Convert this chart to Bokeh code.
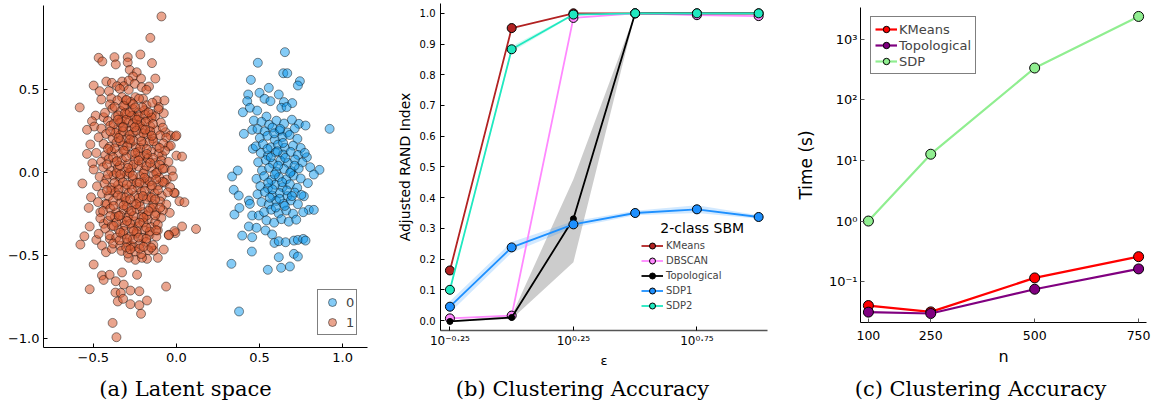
from bokeh.plotting import figure
from bokeh.models import FixedTicker, Legend, LegendItem, Label, Range1d
from bokeh.embed import file_html
from bokeh.resources import INLINE

# ---------------- Panel (a): latent space (hand-read positions) ----------------
class1_points = [
    # outer / sparse
    (-0.09, 0.94), (-0.157, 0.811), (-0.468, 0.691), (-0.446, 0.669), (-0.373, 0.695), (-0.293, 0.695),
    (-0.217, 0.711), (-0.365, 0.651), (-0.293, 0.663), (-0.147, 0.659), (-0.281, 0.618), (-0.239, 0.604),
    (-0.261, 0.578), (-0.213, 0.566), (-0.127, 0.566), (-0.422, 0.548), (-0.388, 0.540), (-0.327, 0.548),
    (-0.287, 0.554), (-0.498, 0.524), (-0.357, 0.520), (-0.317, 0.520), (-0.251, 0.534), (-0.209, 0.514),
    (-0.165, 0.518), (-0.462, 0.490), (-0.406, 0.490), (-0.341, 0.504), (-0.287, 0.498), (-0.181, 0.498),
    (-0.452, 0.440), (-0.392, 0.448), (-0.327, 0.454), (-0.301, 0.434), (-0.247, 0.454), (-0.201, 0.444),
    (-0.117, 0.434), (-0.072, 0.434), (-0.582, 0.392), (-0.486, 0.343), (-0.438, 0.333), (-0.106, 0.394),
    (-0.076, 0.357), (-0.508, 0.309), (-0.494, 0.277), (-0.538, 0.257), (-0.066, 0.243), (-0.036, 0.223),
    (-0.006, 0.217), (-0.518, 0.169), (-0.538, 0.112), (-0.506, 0.056), (0.0, 0.102), (0.034, 0.096),
    (-0.046, 0.157), (-0.086, 0.102), (-0.566, -0.066), (-0.514, -0.149), (-0.528, -0.213), (-0.522, -0.325),
    (-0.554, -0.384), (-0.578, -0.434), (-0.482, -0.406), (-0.448, -0.440), (-0.424, -0.480), (-0.388, -0.460),
    (-0.498, -0.554), (-0.448, -0.620), (-0.438, -0.647), (-0.402, -0.616), (-0.365, -0.655), (-0.327, -0.602),
    (-0.317, -0.675), (-0.237, -0.616), (-0.522, -0.703), (-0.367, -0.723), (-0.335, -0.725), (-0.277, -0.711),
    (-0.223, -0.715), (-0.353, -0.777), (-0.321, -0.761), (-0.277, -0.793), (-0.223, -0.799), (-0.177, -0.771),
    (-0.213, -0.851), (-0.062, -0.687), (-0.384, -0.906), (-0.361, -0.992), (-0.010, -0.124), (0.018, -0.173),
    (0.048, -0.179), (-0.040, -0.243), (-0.006, -0.365), (-0.046, -0.375), (0.034, -0.325), (-0.112, -0.349),
    (-0.076, -0.464), (-0.112, -0.514), (-0.177, -0.520), (-0.247, -0.526), (-0.287, -0.514), (-0.207, -0.514),
    (-0.136, -0.470), (-0.277, -0.440), (-0.468, -0.369), (-0.400, -0.400), (-0.438, -0.309), (-0.458, -0.239),
    (-0.428, -0.189), (0.118, -0.340), (-0.012, -0.353), (-0.046, -0.378), (-0.014, -0.122), (0.0, 0.223),
    # core
    (-0.40, 0.41), (-0.355, 0.435), (-0.31, 0.40), (-0.275, 0.425), (-0.225, 0.445), (-0.18, 0.405), (-0.145, 0.42),
    (-0.43, 0.36), (-0.385, 0.385), (-0.335, 0.37), (-0.30, 0.35), (-0.262, 0.383), (-0.228, 0.362), (-0.192, 0.375),
    (-0.148, 0.352), (-0.108, 0.381),
    (-0.412, 0.31), (-0.366, 0.334), (-0.328, 0.318), (-0.292, 0.298), (-0.247, 0.332), (-0.213, 0.306),
    (-0.171, 0.322), (-0.128, 0.339), (-0.094, 0.301),
    (-0.452, 0.265), (-0.398, 0.282), (-0.357, 0.259), (-0.318, 0.276), (-0.284, 0.251), (-0.238, 0.288),
    (-0.203, 0.262), (-0.158, 0.279), (-0.121, 0.254), (-0.082, 0.27),
    (-0.468, 0.212), (-0.423, 0.232), (-0.384, 0.208), (-0.338, 0.226), (-0.302, 0.201), (-0.261, 0.238),
    (-0.219, 0.214), (-0.177, 0.229), (-0.142, 0.205), (-0.098, 0.224), (-0.061, 0.211),
    (-0.438, 0.172), (-0.402, 0.155), (-0.361, 0.181), (-0.322, 0.163), (-0.277, 0.178), (-0.243, 0.152),
    (-0.199, 0.171), (-0.163, 0.186), (-0.118, 0.158), (-0.079, 0.175), (-0.034, 0.162),
    (-0.482, 0.118), (-0.428, 0.104), (-0.391, 0.128), (-0.348, 0.111), (-0.309, 0.132), (-0.268, 0.108),
    (-0.232, 0.124), (-0.188, 0.102), (-0.151, 0.127), (-0.107, 0.113), (-0.068, 0.131),
    (-0.452, 0.066), (-0.408, 0.081), (-0.372, 0.058), (-0.327, 0.074), (-0.291, 0.052), (-0.248, 0.079),
    (-0.208, 0.061), (-0.172, 0.083), (-0.128, 0.057), (-0.091, 0.072), (-0.048, 0.064),
    (-0.498, 0.018), (-0.441, 0.031), (-0.393, 0.009), (-0.352, 0.027), (-0.313, 0.004), (-0.271, 0.022),
    (-0.228, 0.036), (-0.192, 0.011), (-0.149, 0.028), (-0.113, 0.003), (-0.071, 0.024), (-0.028, 0.012),
    (-0.462, -0.026), (-0.421, -0.041), (-0.378, -0.018), (-0.338, -0.034), (-0.297, -0.011), (-0.262, -0.038),
    (-0.218, -0.022), (-0.181, -0.044), (-0.138, -0.015), (-0.102, -0.031), (-0.058, -0.042), (-0.021, -0.024),
    (-0.478, -0.083), (-0.432, -0.068), (-0.392, -0.091), (-0.351, -0.074), (-0.309, -0.097), (-0.271, -0.072),
    (-0.232, -0.088), (-0.188, -0.066), (-0.152, -0.093), (-0.108, -0.077), (-0.072, -0.061), (-0.038, -0.089),
    (-0.448, -0.128), (-0.408, -0.142), (-0.368, -0.121), (-0.331, -0.146), (-0.288, -0.124), (-0.249, -0.139),
    (-0.211, -0.117), (-0.168, -0.148), (-0.131, -0.126), (-0.088, -0.141), (-0.052, -0.119),
    (-0.472, -0.178), (-0.418, -0.191), (-0.381, -0.169), (-0.339, -0.186), (-0.302, -0.172), (-0.258, -0.194),
    (-0.221, -0.176), (-0.178, -0.163), (-0.139, -0.189), (-0.098, -0.174), (-0.061, -0.192),
    (-0.441, -0.232), (-0.398, -0.218), (-0.362, -0.241), (-0.318, -0.224), (-0.281, -0.246), (-0.238, -0.221),
    (-0.202, -0.238), (-0.158, -0.216), (-0.121, -0.243), (-0.082, -0.228),
    (-0.458, -0.276), (-0.412, -0.291), (-0.371, -0.268), (-0.329, -0.287), (-0.292, -0.271), (-0.251, -0.294),
    (-0.209, -0.266), (-0.172, -0.284), (-0.128, -0.297), (-0.091, -0.273),
    (-0.428, -0.338), (-0.388, -0.321), (-0.348, -0.342), (-0.309, -0.318), (-0.268, -0.336), (-0.231, -0.324),
    (-0.191, -0.347), (-0.152, -0.329), (-0.112, -0.314),
    (-0.402, -0.378), (-0.362, -0.392), (-0.321, -0.371), (-0.282, -0.388), (-0.241, -0.368), (-0.201, -0.394),
    (-0.162, -0.376), (-0.121, -0.386),
    (-0.381, -0.428), (-0.338, -0.441), (-0.298, -0.422), (-0.259, -0.446), (-0.218, -0.431), (-0.181, -0.418),
    (-0.139, -0.437),
    (-0.331, -0.472), (-0.292, -0.488), (-0.248, -0.476), (-0.211, -0.491), (-0.168, -0.468),
    (-0.372, 0.395), (-0.318, 0.402), (-0.262, 0.412), (-0.205, 0.392),
    (-0.351, 0.344), (-0.309, 0.357), (-0.268, 0.341), (-0.226, 0.338), (-0.188, 0.348), (-0.149, 0.331),
    (-0.378, 0.292), (-0.339, 0.301), (-0.301, 0.318), (-0.262, 0.296), (-0.221, 0.283), (-0.184, 0.305),
    (-0.141, 0.292),
    (-0.366, 0.238), (-0.321, 0.248), (-0.281, 0.226), (-0.241, 0.252), (-0.198, 0.236), (-0.158, 0.248),
    (-0.372, 0.146), (-0.338, 0.189), (-0.296, 0.158), (-0.258, 0.192), (-0.218, 0.148), (-0.178, 0.141),
    (-0.138, 0.188),
    (-0.381, 0.091), (-0.341, 0.042), (-0.302, 0.093), (-0.259, 0.048), (-0.219, 0.096), (-0.181, 0.038),
    (-0.141, 0.088), (-0.101, 0.046),
    (-0.361, -0.004), (-0.322, -0.058), (-0.281, -0.002), (-0.239, -0.061), (-0.198, -0.006), (-0.161, -0.054),
    (-0.121, -0.003), (-0.082, -0.056),
    (-0.392, -0.108), (-0.348, -0.101), (-0.309, -0.151), (-0.268, -0.104), (-0.228, -0.154), (-0.191, -0.109),
    (-0.151, -0.151), (-0.111, -0.106),
    (-0.378, -0.201), (-0.338, -0.258), (-0.298, -0.208), (-0.258, -0.262), (-0.218, -0.204), (-0.178, -0.258),
    (-0.141, -0.211),
    (-0.361, -0.302), (-0.318, -0.352), (-0.278, -0.308), (-0.238, -0.356), (-0.198, -0.301), (-0.161, -0.356),
    (-0.122, -0.348),
    (-0.342, -0.408), (-0.302, -0.452), (-0.262, -0.402), (-0.222, -0.458), (-0.182, -0.399), (-0.152, -0.452),
    # extra dense centre
    (-0.352, 0.318), (-0.281, 0.362), (-0.238, 0.318), (-0.168, 0.362), (-0.322, 0.272), (-0.251, 0.272),
    (-0.188, 0.258), (-0.348, 0.208), (-0.279, 0.199), (-0.211, 0.188), (-0.148, 0.221), (-0.318, 0.132),
    (-0.248, 0.118), (-0.178, 0.112), (-0.358, 0.068), (-0.291, 0.028), (-0.228, 0.072), (-0.158, 0.058),
    (-0.338, -0.012), (-0.262, -0.018), (-0.192, -0.032), (-0.122, -0.042), (-0.372, -0.062), (-0.298, -0.072),
    (-0.222, -0.061), (-0.148, -0.078), (-0.352, -0.138), (-0.278, -0.161), (-0.202, -0.142), (-0.128, -0.162),
    (-0.318, -0.198), (-0.242, -0.191), (-0.168, -0.232), (-0.348, -0.262), (-0.271, -0.232), (-0.198, -0.272),
    (-0.128, -0.258), (-0.298, -0.292), (-0.221, -0.302), (-0.338, -0.362), (-0.258, -0.352), (-0.181, -0.332),
    (-0.298, -0.398), (-0.228, -0.392), (-0.278, -0.462), (-0.198, -0.448), (-0.301, 0.438), (-0.248, 0.392),
    (-0.398, 0.248), (-0.412, 0.142), (-0.418, 0.048), (-0.412, -0.012), (-0.418, -0.108), (-0.398, -0.262),
    (-0.378, -0.322), (-0.102, 0.148), (-0.098, -0.212), (-0.082, 0.022),
]

class0_points = [
    # outer / sparse
    (0.653, 0.725), (0.490, 0.661), (0.643, 0.598), (0.667, 0.598), (0.743, 0.550), (0.731, 0.524),
    (0.448, 0.558), (0.556, 0.510), (0.432, 0.470), (0.500, 0.480), (0.616, 0.470), (0.426, 0.430),
    (0.530, 0.444), (0.566, 0.430), (0.647, 0.424), (0.697, 0.418), (0.400, 0.363), (0.442, 0.390),
    (0.486, 0.373), (0.542, 0.337), (0.631, 0.390), (0.663, 0.394), (0.737, 0.293), (0.777, 0.283),
    (0.466, 0.313), (0.456, 0.257), (0.406, 0.233), (0.922, 0.263), (0.460, 0.143), (0.785, 0.092),
    (0.805, 0.032), (0.861, 0.016), (0.827, -0.012), (0.791, -0.064), (0.335, -0.024), (0.369, 0.012),
    (0.345, -0.104), (0.375, -0.139), (0.349, -0.253), (0.379, -0.213), (0.436, -0.169), (0.442, -0.189),
    (0.456, -0.259), (0.496, -0.259), (0.436, -0.325), (0.482, -0.333), (0.396, -0.380), (0.456, -0.390),
    (0.536, -0.349), (0.576, -0.373), (0.767, -0.143), (0.797, -0.225), (0.827, -0.225), (0.763, -0.239),
    (0.590, -0.424), (0.616, -0.414), (0.657, -0.420), (0.707, -0.410), (0.731, -0.406), (0.763, -0.400),
    (0.777, -0.410), (0.454, -0.476), (0.616, -0.510), (0.707, -0.490), (0.731, -0.506), (0.331, -0.550),
    (0.550, -0.586), (0.630, -0.574), (0.683, -0.566), (0.377, -0.837),
    # core
    (0.512, 0.305), (0.558, 0.288), (0.602, 0.312), (0.648, 0.295), (0.695, 0.318),
    (0.488, 0.262), (0.531, 0.248), (0.578, 0.271), (0.621, 0.252), (0.668, 0.241), (0.712, 0.265),
    (0.502, 0.208), (0.548, 0.221), (0.592, 0.198), (0.638, 0.214), (0.681, 0.226), (0.728, 0.203),
    (0.478, 0.158), (0.521, 0.171), (0.568, 0.152), (0.611, 0.168), (0.652, 0.149), (0.702, 0.162), (0.748, 0.148),
    (0.508, 0.118), (0.551, 0.102), (0.598, 0.121), (0.642, 0.108), (0.688, 0.124), (0.731, 0.106), (0.772, 0.118),
    (0.492, 0.062), (0.538, 0.075), (0.581, 0.054), (0.626, 0.071), (0.671, 0.058), (0.714, 0.078), (0.758, 0.061),
    (0.515, 0.012), (0.558, 0.028), (0.601, 0.004), (0.648, 0.021), (0.692, 0.008), (0.736, 0.024),
    (0.482, -0.038), (0.528, -0.022), (0.571, -0.045), (0.617, -0.028), (0.661, -0.041), (0.705, -0.019),
    (0.748, -0.036),
    (0.505, -0.082), (0.551, -0.095), (0.594, -0.074), (0.639, -0.088), (0.683, -0.071), (0.727, -0.092),
    (0.488, -0.131), (0.532, -0.118), (0.578, -0.139), (0.622, -0.124), (0.668, -0.142), (0.712, -0.121),
    (0.752, -0.135),
    (0.512, -0.178), (0.556, -0.192), (0.601, -0.171), (0.645, -0.188), (0.689, -0.168), (0.731, -0.191),
    (0.528, -0.238), (0.571, -0.224), (0.615, -0.246), (0.661, -0.229), (0.702, -0.248),
    (0.542, -0.288), (0.588, -0.302), (0.632, -0.281), (0.676, -0.296), (0.721, -0.284),
    (0.568, 0.092), (0.612, 0.041), (0.655, 0.088), (0.592, -0.012), (0.636, -0.058), (0.578, -0.101),
    (0.621, -0.158), (0.665, -0.108), (0.598, -0.211), (0.552, -0.061), (0.548, 0.142), (0.588, 0.236),
    (0.642, 0.178), (0.685, -0.002), (0.711, 0.041), (0.652, -0.201), (0.608, 0.128), (0.562, -0.152),
    (0.695, -0.142), (0.625, 0.262),
]

latent_ticks = [-0.5, 0, 0.5, 1]
latent_tick_labels = {-0.5: "\u22120.5", 0: "0.0", 0.5: "0.5", 1: "1.0", -1: "\u22121.0"}

# ---------------- Panel (b): ARI vs epsilon ----------------
eps_values = [0.5623, 1.0, 1.7783, 3.1623, 5.6234, 10.0]
eps_ticks = [0.5623, 1.7783, 5.6234]
eps_tick_labels = {0.5623: "10\u207b\u2070\u00b7\u00b2\u2075", 1.7783: "10\u2070\u00b7\u00b2\u2075",
                   5.6234: "10\u2070\u00b7\u2077\u2075"}
ari_ticks = [0, 0.1, 0.2, 0.3, 0.4, 0.5, 0.6, 0.7, 0.8, 0.9, 1]

kmeans_ari = [0.163, 0.952, 1.0, 1.0, 1.0, 1.0]
dbscan_ari = [0.007, 0.016, 0.985, 1.0, 0.994, 0.991]
topo_ari = [-0.003, 0.010, 0.331, 1.0, 1.0, 1.0]
topo_lo = [-0.005, 0.005, 0.190, 0.998, 1.0, 1.0]
topo_hi = [-0.001, 0.016, 0.460, 1.0, 1.0, 1.0]
sdp1_ari = [0.045, 0.238, 0.313, 0.350, 0.362, 0.337]
sdp1_lo = [0.025, 0.221, 0.303, 0.343, 0.350, 0.331]
sdp1_hi = [0.063, 0.256, 0.323, 0.357, 0.375, 0.343]
sdp2_ari = [0.100, 0.883, 0.996, 1.0, 1.0, 1.0]
sdp2_lo = [0.094, 0.874, 0.993, 1.0, 1.0, 1.0]
sdp2_hi = [0.106, 0.893, 0.999, 1.0, 1.0, 1.0]

# ---------------- Panel (c): run time vs n ----------------
n_values = [100, 250, 500, 750]
kmeans_time = [0.0402, 0.0316, 0.115, 0.258]
topo_time = [0.0313, 0.0297, 0.0748, 0.162]
sdp_time = [1.0, 12.7, 337.0, 2394.0]
time_ticks = [0.1, 1, 10, 100, 1000]
time_tick_labels = {0.1: "10\u207b\u00b9", 1: "10\u2070", 10: "10\u00b9", 100: "10\u00b2", 1000: "10\u00b3"}

captions = ["(a) Latent space", "(b) Clustering Accuracy", "(c) Clustering Accuracy"]

FONT = "DejaVu Sans"
SERIF = "DejaVu Serif"
PLOT_H = 370
CAP_H = 34


def style_axes(p, tick_size, tick_color="black"):
    p.grid.visible = False
    p.outline_line_color = None
    p.background_fill_color = "white"
    p.border_fill_color = "white"
    for ax in p.axis:
        ax.major_tick_in = 4
        ax.major_tick_out = 0
        ax.minor_tick_line_color = None
        ax.major_tick_line_color = tick_color
        ax.axis_line_color = "black"
        ax.axis_line_width = 1
        ax.major_label_text_font = FONT
        ax.major_label_text_font_size = tick_size
        ax.major_label_text_color = "black"
        ax.axis_label_text_font = FONT
        ax.axis_label_text_font_style = "normal"
        ax.axis_label_text_color = "black"


def caption_strip(width, text, center_px):
    # a slim canvas below each panel holding its sub-figure caption
    c = figure(width=width, height=CAP_H, output_backend="svg", toolbar_location=None,
               x_range=Range1d(0, width), y_range=Range1d(0, CAP_H),
               x_axis_location=None, y_axis_location=None,
               min_border_left=0, min_border_right=0, min_border_top=0, min_border_bottom=0)
    c.grid.visible = False
    c.outline_line_color = None
    c.add_layout(Label(x=center_px, y=CAP_H - 18, text=text, text_align="center", text_baseline="middle",
                       text_font=SERIF, text_font_size="21px", text_color="black"))
    return c


# ---- (a)
pa = figure(width=380, height=PLOT_H, output_backend="svg", toolbar_location=None,
            x_range=Range1d(-0.80, 1.15), y_range=Range1d(-1.054, 1.006),
            min_border_left=43, min_border_right=13, min_border_top=5, min_border_bottom=23)
style_axes(pa, "13px")
pa.xaxis.ticker = FixedTicker(ticks=latent_ticks)
pa.yaxis.ticker = FixedTicker(ticks=[-1, -0.5, 0, 0.5])
pa.xaxis.major_label_overrides = latent_tick_labels
pa.yaxis.major_label_overrides = latent_tick_labels
pa.xaxis.major_label_standoff = 5
pa.yaxis.major_label_standoff = 4

c0x = [p[0] for p in class0_points]
c0y = [p[1] for p in class0_points]
c1x = [p[0] for p in class1_points]
c1y = [p[1] for p in class1_points]
r0 = pa.scatter(c0x, c0y, size=9, fill_color="#0A98EE", fill_alpha=0.5,
                line_color="black", line_alpha=0.45, line_width=1)
r1 = pa.scatter(c1x, c1y, size=9, fill_color="#D85A30", fill_alpha=0.55,
                line_color="black", line_alpha=0.45, line_width=1)
leg_a = Legend(items=[LegendItem(label="0", renderers=[r0]), LegendItem(label="1", renderers=[r1])],
               location=(274, 12), orientation="vertical", glyph_width=24, glyph_height=20,
               spacing=0, padding=2, label_standoff=2, label_width=8, margin=0,
               label_text_font=FONT, label_text_font_size="13px",
               border_line_color="black", border_line_width=1, background_fill_alpha=1)
pa.add_layout(leg_a, "center")

# ---- (b)
pb = figure(width=400, height=PLOT_H, output_backend="svg", toolbar_location=None,
            x_axis_type="log", x_range=Range1d(0.515, 10.86), y_range=Range1d(-0.0325, 1.032),
            min_border_left=60, min_border_right=13, min_border_top=3, min_border_bottom=39)
style_axes(pb, "10px")
pb.xaxis.ticker = FixedTicker(ticks=eps_ticks)
pb.xaxis.major_label_overrides = eps_tick_labels
pb.xaxis.major_label_text_font_size = "12px"
pb.yaxis.ticker = FixedTicker(ticks=ari_ticks)
pb.yaxis.major_label_overrides = {0: "0.0", 0.1: "0.1", 0.2: "0.2", 0.3: "0.3", 0.4: "0.4", 0.5: "0.5",
                                  0.6: "0.6", 0.7: "0.7", 0.8: "0.8", 0.9: "0.9", 1: "1.0"}
pb.xaxis.axis_label = "\u03b5"
pb.xaxis.axis_label_text_font_size = "13px"
pb.xaxis.axis_label_standoff = 2
pb.xaxis.major_label_standoff = 3
pb.xaxis.axis_line_color = "#555555"
pb.xaxis.axis_line_width = 1.5
pb.yaxis.axis_label = "Adjusted RAND Index"
pb.yaxis.axis_label_text_font_size = "14px"
pb.yaxis.axis_label_standoff = 4
pb.yaxis.major_label_standoff = 5

pb.varea(x=eps_values, y1=topo_lo, y2=topo_hi, fill_color="black", fill_alpha=0.2)
pb.varea(x=eps_values, y1=sdp1_lo, y2=sdp1_hi, fill_color="#1E90FF", fill_alpha=0.2)
pb.varea(x=eps_values, y1=sdp2_lo, y2=sdp2_hi, fill_color="#20E8C0", fill_alpha=0.2)

series_b = [
    ("KMeans", kmeans_ari, "#B22222", 9),
    ("DBSCAN", dbscan_ari, "#FF88FF", 9),
    ("Topological", topo_ari, "black", 6),
    ("SDP1", sdp1_ari, "#1E90FF", 9),
    ("SDP2", sdp2_ari, "#20E8C0", 9),
]
items_b = []
for name, vals, col, msize in series_b:
    ln = pb.line(eps_values, vals, line_color=col, line_width=1.8)
    mk = pb.scatter(eps_values, vals, size=msize, fill_color=col, line_color="black", line_width=1)
    items_b.append(LegendItem(label=name, renderers=[ln, mk]))
leg_b = Legend(items=items_b, location=(201, 17), glyph_width=22, glyph_height=15, spacing=0,
               padding=4, label_standoff=3, margin=0, label_height=12,
               label_text_font=FONT, label_text_font_size="10px",
               border_line_color=None, background_fill_alpha=0)
pb.add_layout(leg_b, "center")
pb.add_layout(Label(x=5.91, y=0.3016, text="2-class SBM", text_align="center", text_baseline="middle",
                    text_font=FONT, text_font_size="14px", text_color="black"))

# ---- (c)
pc = figure(width=394, height=PLOT_H, output_backend="svg", toolbar_location=None,
            y_axis_type="log", x_range=Range1d(81, 769), y_range=Range1d(0.0211, 3365),
            min_border_left=80, min_border_right=28, min_border_top=7, min_border_bottom=48)
style_axes(pc, "13px", tick_color="#555555")
pc.xaxis.ticker = FixedTicker(ticks=n_values)
pc.yaxis.ticker = FixedTicker(ticks=time_ticks)
pc.yaxis.major_label_overrides = time_tick_labels
pc.xaxis.major_label_text_font_size = "12.5px"
pc.xaxis.axis_label = "n"
pc.xaxis.axis_label_text_font_size = "16px"
pc.xaxis.axis_label_standoff = 4
pc.xaxis.major_label_standoff = 8
pc.yaxis.axis_label = "Time (s)"
pc.yaxis.axis_label_text_font_size = "17px"
pc.yaxis.axis_label_standoff = 10
pc.yaxis.major_label_standoff = 3

series_c = [
    ("KMeans", kmeans_time, "#FF0000"),
    ("Topological", topo_time, "#800080"),
    ("SDP", sdp_time, "#90EE90"),
]
items_c = []
for name, vals, col in series_c:
    ln = pc.line(n_values, vals, line_color=col, line_width=2.2)
    mk = pc.scatter(n_values, vals, size=10, fill_color=col, line_color="black", line_width=1)
    items_c.append(LegendItem(label=name, renderers=[ln, mk]))
leg_c = Legend(items=items_c, location=(10, 248), glyph_width=22, glyph_height=16, spacing=0,
               padding=4, label_standoff=2, margin=0, label_height=14,
               label_text_font=FONT, label_text_font_size="13px",
               border_line_color="black", border_line_width=1, background_fill_alpha=1)
pc.add_layout(leg_c, "center")

ca = caption_strip(380, captions[0], 185)
cb = caption_strip(400, captions[1], 202)
cc = caption_strip(394, captions[2], 200)

# Independent roots in a 3x2 grid (keeps each panel's own frame size).
page_template = """
{% block postamble %}
<style>
  html, body { margin: 0 !important; padding: 0 !important; }
  body { display: grid !important; grid-template-columns: 380px 400px 394px;
         grid-auto-rows: min-content; align-items: start; overflow: hidden; }
</style>
{% endblock %}
"""
p = [pa, pb, pc, ca, cb, cc]
open("out.html", "w").write(file_html(p, INLINE, template=page_template))
